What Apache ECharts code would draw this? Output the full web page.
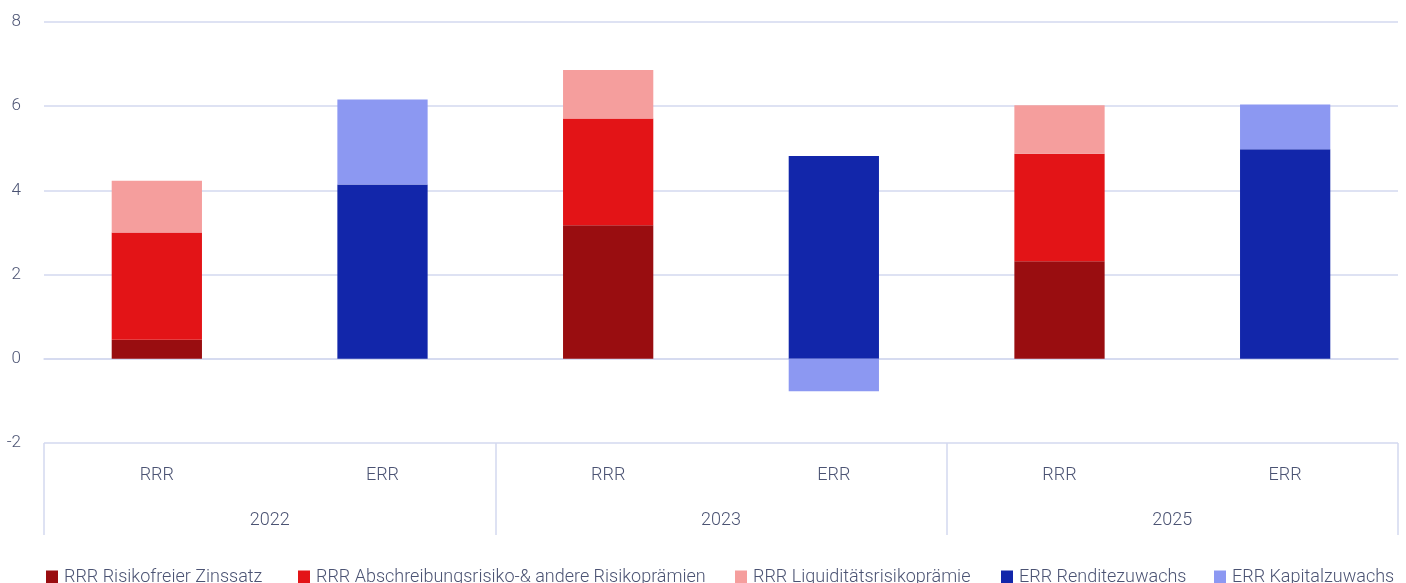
<!DOCTYPE html>
<html>
<head>
<meta charset="utf-8">
<script src="https://cdn.jsdelivr.net/npm/echarts@6/dist/echarts.min.js"></script>
<style>
  html, body { margin: 0; padding: 0; background: #ffffff; }
  #chart { width: 1406px; height: 583px; }
</style>
</head>
<body>
<div id="chart"></div>
<script>
// Years and the two bars shown per year
const years = ['2022', '2023', '2025'];
const barKinds = ['RRR', 'ERR'];

// RRR components (per year)
const risikofreierZinssatz = [0.45, 3.17, 2.32];
const abschreibungsrisiko = [2.55, 2.54, 2.55];
const liquiditaetsrisiko = [1.23, 1.15, 1.15];

// ERR components (per year)
const renditezuwachs = [4.14, 4.82, 4.98];
const kapitalzuwachs = [2.02, -0.77, 1.06];

const seriesNames = [
  'RRR Risikofreier Zinssatz',
  'RRR Abschreibungsrisiko-& andere Risikoprämien',
  'RRR Liquiditätsrisikoprämie',
  'ERR Renditezuwachs',
  'ERR Kapitalzuwachs'
];
const seriesColors = ['#990d10', '#e31417', '#f59e9d', '#1226aa', '#8c98f2'];

const textColor = '#4b5373';
const lineColor = '#d3d9ef';
const fontFamily = 'Roboto, "Noto Sans", sans-serif';

// One category slot per (year, kind)
const categoryKeys = [];
years.forEach(y => barKinds.forEach(k => categoryKeys.push(y + '|' + k)));

// Spread per-year values onto RRR or ERR slots
function slots(values, kind) {
  const out = [];
  years.forEach((y, i) => barKinds.forEach(k => out.push(k === kind ? values[i] : '-')));
  return out;
}

const seriesData = [
  slots(risikofreierZinssatz, 'RRR'),
  slots(abschreibungsrisiko, 'RRR'),
  slots(liquiditaetsrisiko, 'RRR'),
  slots(renditezuwachs, 'ERR'),
  slots(kapitalzuwachs, 'ERR')
];

const legendLefts = [46, 298, 735, 1001, 1214];

const chart = echarts.init(document.getElementById('chart'), null, { renderer: 'canvas' });

chart.setOption({
  animation: false,
  backgroundColor: '#ffffff',
  textStyle: { fontFamily: fontFamily },
  grid: { left: 44, right: 8, top: 22, bottom: 140, containLabel: false },
  legend: seriesNames.map((name, i) => ({
    data: [name],
    left: legendLefts[i],
    top: 566,
    itemWidth: 12,
    itemHeight: 13,
    icon: 'rect',
    itemGap: 0,
    padding: 0,
    selectedMode: false,
    textStyle: {
      color: textColor, fontSize: 18, fontWeight: 300, fontFamily: fontFamily,
      lineHeight: 18, padding: [4, 0, 0, 1]
    }
  })),
  xAxis: [
    {
      type: 'category',
      data: categoryKeys,
      position: 'bottom',
      axisLine: { show: true, lineStyle: { color: lineColor, width: 1.5 } },
      axisTick: { show: false },
      axisLabel: {
        color: textColor, fontSize: 18, fontWeight: 300, margin: 23,
        formatter: v => v.split('|')[1]
      },
      splitLine: { show: false }
    },
    {
      type: 'category',
      data: years,
      position: 'bottom',
      axisLine: { show: false },
      axisTick: { show: true, length: 92, inside: false, lineStyle: { color: lineColor, width: 1.5 } },
      axisLabel: { color: textColor, fontSize: 18, fontWeight: 300, margin: 68 },
      splitLine: { show: false }
    }
  ],
  yAxis: {
    type: 'value',
    min: -2,
    max: 8,
    interval: 2,
    axisLine: { show: false },
    axisTick: { show: false },
    axisLabel: { color: textColor, fontSize: 17, fontWeight: 300, margin: 23 },
    splitLine: { show: true, lineStyle: { color: lineColor, width: 1.5 } }
  },
  series: seriesNames.map((name, i) => ({
    name: name,
    type: 'bar',
    stack: 'total',
    xAxisIndex: 0,
    barWidth: '40%',
    itemStyle: { color: seriesColors[i] },
    data: seriesData[i]
  }))
});
</script>
</body>
</html>
